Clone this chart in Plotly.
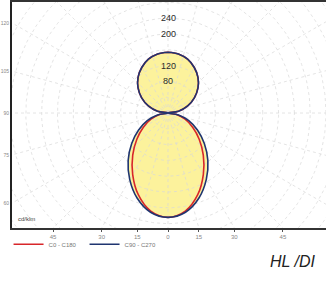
import numpy as np
import plotly.graph_objects as go

# ---- data (cd/klm) ----
gamma_deg = [0, 10, 20, 30, 40, 50, 60, 70, 80, 90, 100, 110, 120, 130, 140, 150, 160, 170, 180]
c90_c270 = [264, 255, 229, 194, 157, 120, 86, 56, 27, 0, 27, 53, 77, 99, 118, 133, 145, 152, 154]
c0_c180 = [264, 252, 220, 179, 139, 103, 72, 46, 22, 0, 27, 53, 77, 99, 118, 133, 145, 152, 154]
series_names = ["C0 - C180", "C90 - C270"]

grid_radii = list(range(40, 520, 40))
radius_labels = [80, 120, 200, 240]
radial_step = 15
left_angles = [60, 75, 90, 105, 120]
bottom_angles = [-45, -30, -15, 0, 15, 30, 45]

X_RANGE = [-395, 400]
Y_RANGE = [-291, 281]


def to_xy(gam, r, side=1):
    g = np.radians(np.asarray(gam, dtype=float))
    r = np.asarray(r, dtype=float)
    return side * r * np.sin(g), -r * np.cos(g)


def closed(gam, r):
    xr, yr = to_xy(gam, r, 1)
    xl, yl = to_xy(gam[::-1], r[::-1], -1)
    return np.concatenate([xr, xl]), np.concatenate([yr, yl])


fig = go.Figure()

# filled envelope
fx, fy = closed(gamma_deg, c90_c270)
fig.add_trace(go.Scatter(x=fx, y=fy, mode="lines", fill="toself",
                         fillcolor="#fcf29c", line=dict(color="rgba(0,0,0,0)", width=0, shape="spline"),
                         showlegend=False, hoverinfo="skip"))

# grid circles
t = np.linspace(0, 2 * np.pi, 361)
for rr in grid_radii:
    fig.add_trace(go.Scatter(x=rr * np.cos(t), y=rr * np.sin(t), mode="lines",
                             line=dict(color="#d9d9d9", width=0.7, dash="dot"),
                             showlegend=False, hoverinfo="skip"))
# radial lines
for a in range(0, 360, radial_step):
    ar = np.radians(a)
    fig.add_trace(go.Scatter(x=[0, 600 * np.sin(ar)], y=[0, -600 * np.cos(ar)], mode="lines",
                             line=dict(color="#d9d9d9", width=0.7, dash="dot"),
                             showlegend=False, hoverinfo="skip"))

# curves
rx, ry = closed(gamma_deg, c0_c180)
fig.add_trace(go.Scatter(x=rx, y=ry, mode="lines", name=series_names[0],
                         line=dict(color="#d8262a", width=1.6, shape="spline")))
bx, by = closed(gamma_deg, c90_c270)
fig.add_trace(go.Scatter(x=bx, y=by, mode="lines", name=series_names[1],
                         line=dict(color="#1f3570", width=1.6, shape="spline")))

# radius labels
for v in radius_labels:
    fig.add_annotation(x=0, y=v, text=str(v), showarrow=False,
                       font=dict(family="Liberation Sans, Arial", size=9, color="#2a2a2a"))

# axis tick positions for angle labels on frame
xmin = abs(X_RANGE[0])
ymin = abs(Y_RANGE[0])
ytick_vals = [-xmin / np.tan(np.radians(a)) if a != 90 else 0 for a in left_angles]
xtick_vals = [ymin * np.tan(np.radians(a)) for a in bottom_angles]

fig.add_annotation(xref="paper", yref="paper", x=0.012, y=0.04, xanchor="left", yanchor="middle",
                   text="cd/klm", showarrow=False,
                   font=dict(family="Liberation Sans, Arial", size=6, color="#444444"))
fig.add_annotation(xref="paper", yref="paper", x=0.975, y=-0.15, xanchor="right", yanchor="middle",
                   text="<i>HL /DI</i>", showarrow=False,
                   font=dict(family="Liberation Sans, Arial", size=16, color="#222222"))

fig.update_layout(
    width=326, height=282,
    margin=dict(l=12, r=0, t=2, b=54, autoexpand=False),
    paper_bgcolor="white", plot_bgcolor="white",
    showlegend=True,
    legend=dict(orientation="h", x=-0.011, y=-0.072, xanchor="left", yanchor="middle",
                font=dict(family="Liberation Sans, Arial", size=6, color="#777777"),
                itemwidth=30, entrywidth=31, entrywidthmode="pixels", bgcolor="rgba(0,0,0,0)"),
    xaxis=dict(range=X_RANGE, showgrid=False, zeroline=False, showline=True, mirror=True,
               automargin=False,
               linecolor="#333333", linewidth=1.5, tickmode="array", tickvals=xtick_vals,
               ticktext=[str(abs(a)) for a in bottom_angles], ticks="outside", ticklen=2,
               tickcolor="#555555", tickfont=dict(family="Liberation Sans, Arial", size=6, color="#888888")),
    yaxis=dict(range=Y_RANGE, showgrid=False, zeroline=False, showline=True, automargin=False,
               linecolor="#222222", linewidth=2, tickmode="array", tickvals=ytick_vals,
               ticktext=[str(a) for a in left_angles], ticks="", ticklen=0,
               tickfont=dict(family="Liberation Sans, Arial", size=5, color="#888888")),
)

fig.write_html("out.html", config={"displayModeBar": False},
               post_script="document.body.style.margin='0';")
